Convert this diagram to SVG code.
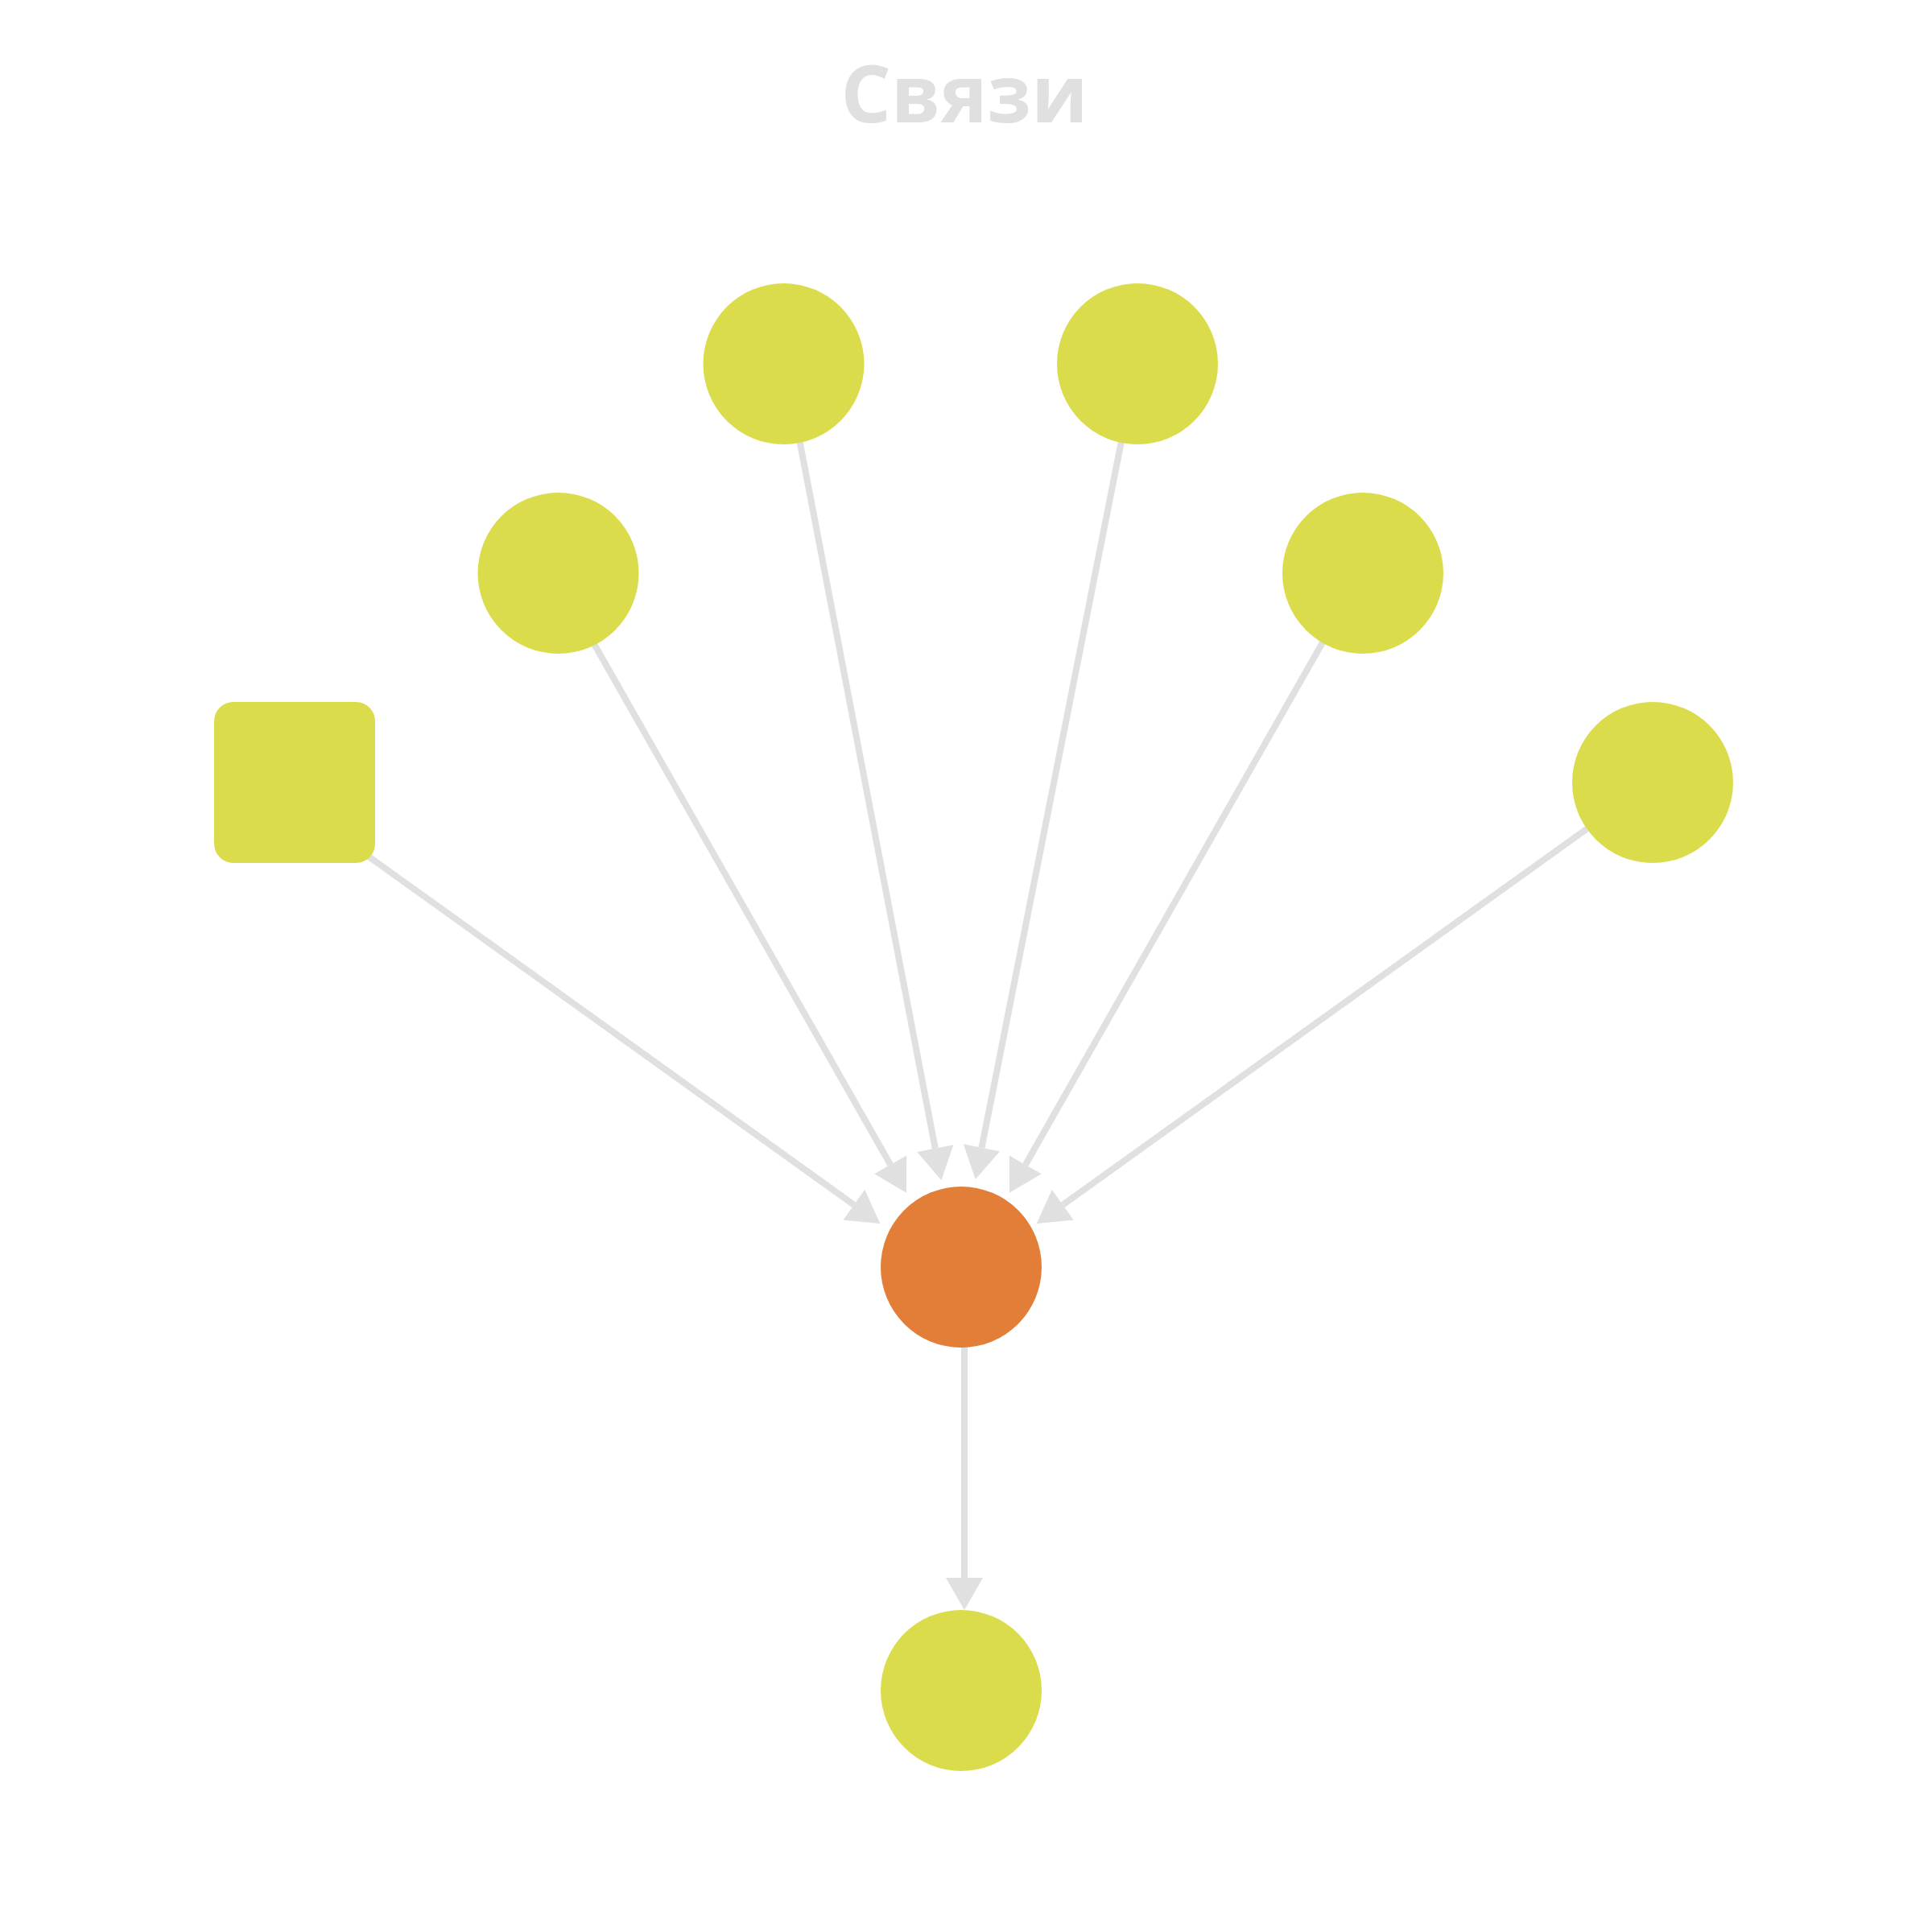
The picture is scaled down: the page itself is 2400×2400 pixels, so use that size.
<svg xmlns="http://www.w3.org/2000/svg" width="2400" height="2400" viewBox="0 0 2400 2400">
  <style>
    .edge { stroke: #e0e0e0; stroke-width: 8; fill: none; marker-end: url(#arrow); }
    .node { fill: #dbdc4b; }
    .hub { fill: #e27e38; }
    .title { font-family: "Open Sans", "Liberation Sans", sans-serif; font-weight: 700; font-size: 98px; fill: #e0e0e0; }
  </style>
  <defs>
    <marker id="arrow" markerUnits="userSpaceOnUse" markerWidth="40" markerHeight="46" viewBox="0 0 40 46" refX="0" refY="23" orient="auto" overflow="visible">
      <path d="M0,0 L40,23 L0,46 Z" fill="#e0e0e0"/>
    </marker>
  </defs>
  <rect width="2400" height="2400" fill="#ffffff"/>
  <text class="title" x="1198" y="152" text-anchor="middle">Связи</text>
  <g id="connectors">
    <line class="edge" x1="366" y1="998" x2="1060.8" y2="1496.7"/>
    <line class="edge" x1="688" y1="712" x2="1106.2" y2="1446.9"/>
    <line class="edge" x1="975" y1="452" x2="1161.8" y2="1426.7"/>
    <line class="edge" x1="1412" y1="452" x2="1219.5" y2="1425.8"/>
    <line class="edge" x1="1692" y1="712" x2="1273.8" y2="1446.9"/>
    <line class="edge" x1="2053" y1="971" x2="1320.2" y2="1496.7"/>
    <line class="edge" x1="1198" y1="1574" x2="1198" y2="1960"/>
  </g>
  <g id="node-square">
    <rect class="node" x="266" y="872" width="200" height="200" rx="24" ry="24"/>
  </g>
  <g id="node-1">
    <circle class="node" cx="693.5" cy="712" r="100"/>
  </g>
  <g id="node-2">
    <circle class="node" cx="973.5" cy="452" r="100"/>
  </g>
  <g id="node-3">
    <circle class="node" cx="1413" cy="452" r="100"/>
  </g>
  <g id="node-4">
    <circle class="node" cx="1693" cy="712" r="100"/>
  </g>
  <g id="node-5">
    <circle class="node" cx="2053" cy="972" r="100"/>
  </g>
  <g id="node-hub">
    <circle class="hub" cx="1194" cy="1574" r="100"/>
  </g>
  <g id="node-bottom">
    <circle class="node" cx="1194" cy="2100" r="100"/>
  </g>
</svg>
